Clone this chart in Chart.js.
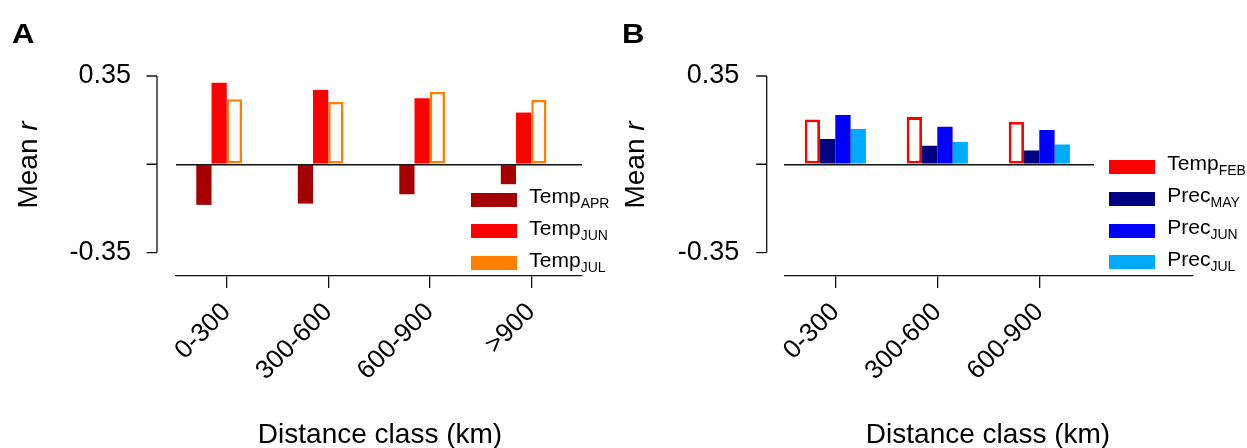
<!DOCTYPE html>
<html lang="en">
<head>
<meta charset="UTF-8">
<title>Mean r by distance class</title>
<script src="https://cdn.jsdelivr.net/npm/chart.js"></script>
<style>
  body { margin: 0; background: #fff; font-family: "Liberation Sans", Arial, sans-serif; color: #000; }
  #wrap { position: relative; width: 1247px; height: 448px; overflow: hidden; }
  canvas { position: absolute; top: 0; }
  .t { position: absolute; white-space: nowrap; line-height: 1; }
  .panel { font-weight: bold; font-size: 27px; transform: scaleX(1.15); transform-origin: left top; }
  .ytitle { font-size: 28px; transform: translate(-50%, -50%) rotate(-90deg); }
  .xtitle { font-size: 28px; transform: translateX(-50%); }
  .sw { position: absolute; width: 46px; height: 14px; }
  .lab { position: absolute; font-size: 21px; line-height: 21px; white-space: nowrap; }
  .lab span { font-size: 14px; vertical-align: -5px; }
  .legbox { position: absolute; background: #fff; }
</style>
</head>
<body>
<div id="wrap">
  <canvas id="chartA" width="620" height="448" style="left:0"></canvas>
  <canvas id="chartB" width="627" height="448" style="left:620px"></canvas>

  <div class="t panel" style="left:12px; top:21px">A</div>
  <div class="t panel" style="left:622px; top:21px">B</div>

  <div class="t ytitle" style="left:28px; top:165px">Mean <i>r</i></div>
  <div class="t ytitle" style="left:635px; top:165px">Mean <i>r</i></div>

  <div class="t xtitle" style="left:380px; top:420px">Distance class (km)</div>
  <div class="t xtitle" style="left:988px; top:420px">Distance class (km)</div>

  <div class="legbox" style="left:1094px; top:150px; width:153px; height:123px"></div>
</div>
<script>
// distance classes and tick values
const classesA = ['0-300', '300-600', '600-900', '>900'];
const classesB = ['0-300', '300-600', '600-900'];
const yTicks = [-0.35, 0, 0.35];

// panel A: temperature correlations
const tempApr = [-0.161, -0.156, -0.119, -0.079];
const tempJun = [0.323, 0.294, 0.262, 0.205];
const tempJul = [0.258, 0.247, 0.287, 0.255];

// panel B: February temperature and precipitation
const tempFeb = [0.178, 0.187, 0.168];
const precMay = [0.100, 0.073, 0.055];
const precJun = [0.195, 0.149, 0.136];
const precJul = [0.140, 0.088, 0.078];

const namesA = ['Temp', 'Temp', 'Temp'];
const subsA = ['APR', 'JUN', 'JUL'];
const colorsA = ['#a50000', '#ff0000', '#ff8000'];
const namesB = ['Temp', 'Prec', 'Prec', 'Prec'];
const subsB = ['FEB', 'MAY', 'JUN', 'JUL'];
const colorsB = ['#ff0000', '#000080', '#0000ff', '#00aaff'];

const FONT = 'Liberation Sans';

// y axis sits a little left of the plot area, R style
const yAxisLine = {
  id: 'yAxisLine',
  afterDraw(chart, args, opts) {
    const y = chart.scales.y, ctx = chart.ctx;
    const x = chart.chartArea.left - opts.gap;
    ctx.save();
    ctx.strokeStyle = '#111';
    ctx.lineWidth = 1.3;
    ctx.beginPath();
    ctx.moveTo(x, y.getPixelForValue(yTicks[0]));
    ctx.lineTo(x, y.getPixelForValue(yTicks[yTicks.length - 1]));
    yTicks.forEach(v => {
      const py = y.getPixelForValue(v);
      ctx.moveTo(x - 10.5, py);
      ctx.lineTo(x, py);
    });
    ctx.stroke();
    ctx.restore();
  }
};

function makeChart(id, labels, datasets, cfg) {
  return new Chart(document.getElementById(id), {
    type: 'bar',
    data: { labels, datasets },
    plugins: [yAxisLine],
    options: {
      responsive: false,
      animation: false,
      layout: { padding: { left: 0, top: 76, right: cfg.padRight, bottom: 0 } },
      datasets: { bar: { categoryPercentage: 0.6, barPercentage: 1 } },
      plugins: {
        legend: { display: false },
        tooltip: { enabled: false },
        yAxisLine: { gap: cfg.gap }
      },
      scales: {
        x: {
          offset: true,
          afterFit: s => { s.height = 172; },
          border: { display: true, color: '#111', width: 1.3 },
          grid: {
            offset: false,
            drawOnChartArea: false,
            drawTicks: true,
            tickLength: 12,
            lineWidth: 1.3,
            color: c => (c.index < cfg.tickCount ? '#111' : 'rgba(0,0,0,0)')
          },
          ticks: {
            autoSkip: false, minRotation: 45, maxRotation: 45, padding: 9,
            color: '#000', font: { family: FONT, size: 26 }
          }
        },
        y: {
          min: -0.443,
          max: 0.35,
          afterFit: s => { s.width = cfg.areaLeft; },
          afterBuildTicks: s => { s.ticks = yTicks.map(v => ({ value: v })); },
          border: { display: false },
          grid: {
            drawTicks: false,
            lineWidth: 1.4,
            color: c => (c.tick && c.tick.value === 0 ? '#111' : 'rgba(0,0,0,0)')
          },
          ticks: {
            padding: 45,
            color: '#000',
            font: { family: FONT, size: 27 },
            callback: v => (v === 0 ? '' : v.toFixed(2))
          }
        }
      }
    }
  });
}

makeChart('chartA', classesA, [
  { data: tempApr, backgroundColor: colorsA[0], borderWidth: 0 },
  { data: tempJun, backgroundColor: colorsA[1], borderWidth: 0 },
  { data: tempJul, backgroundColor: '#fff', borderColor: colorsA[2], borderWidth: 2.5, borderSkipped: false },
  // empty fourth slot so the tick falls between JUN and JUL
  { data: classesA.map(() => null) }
], { areaLeft: 176, padRight: 38, gap: 19, tickCount: classesA.length });

makeChart('chartB', [...classesB, ''], [
  { data: tempFeb, backgroundColor: '#fff', borderColor: colorsB[0], borderWidth: 2.8, borderSkipped: false },
  { data: precMay, backgroundColor: colorsB[1], borderWidth: 0 },
  { data: precJun, backgroundColor: colorsB[2], borderWidth: 0 },
  { data: precJul, backgroundColor: colorsB[3], borderWidth: 0 }
], { areaLeft: 164.3, padRight: 54.7, gap: 17.6, tickCount: classesB.length });

// legends with subscripted month names
function addLegend(names, subs, colors, swX, textX, top0, step) {
  const wrap = document.getElementById('wrap');
  names.forEach((n, i) => {
    const top = top0 + i * step;
    const sw = document.createElement('div');
    sw.className = 'sw';
    sw.style.left = swX + 'px';
    sw.style.top = top + 'px';
    sw.style.background = colors[i];
    wrap.appendChild(sw);
    const lab = document.createElement('div');
    lab.className = 'lab';
    lab.style.left = textX + 'px';
    lab.style.top = (top - 7.6) + 'px';
    lab.innerHTML = n + '<span>' + subs[i] + '</span>';
    wrap.appendChild(lab);
  });
}
addLegend(namesA, subsA, colorsA, 470.7, 529.3, 192.7, 31.7);
addLegend(namesB, subsB, colorsB, 1109.3, 1167.3, 160, 31.8);
</script>
</body>
</html>
